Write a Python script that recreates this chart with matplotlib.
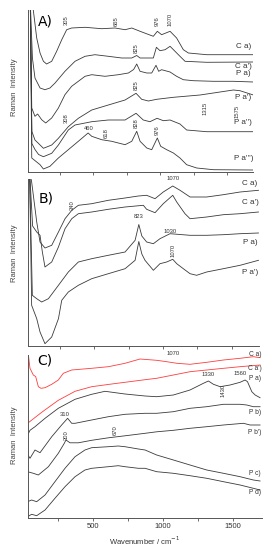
import matplotlib
matplotlib.use("Agg")
import matplotlib.pyplot as plt
from matplotlib.ticker import FixedLocator, FuncFormatter

plt.rcParams['font.family'] = ['Liberation Sans', 'DejaVu Sans']

# ---------------- Panel A (wavenumber, intensity a.u.) ----------------
a_ca_x = [28, 51, 76, 101, 126, 150, 188, 225, 263, 300, 337, 437, 561, 661, 736, 786, 848, 947, 977, 1009, 1072, 1121, 1171, 1209, 1346, 1694]
a_ca_y = [175, 161, 133.5, 118.5, 110.2, 107.5, 110.2, 120.2, 131.8, 141.8, 143.5, 144.2, 142.8, 143.5, 141.8, 143.5, 140.2, 135.2, 140.2, 136.8, 140.2, 133.5, 121.8, 118.5, 116.8, 116.8]
a_ca2_x = [28, 44, 63, 101, 138, 175, 213, 287, 362, 437, 511, 611, 711, 786, 823, 848, 947, 970, 997, 1035, 1072, 1146, 1184, 1346, 1694]
a_ca2_y = [170, 113.5, 93.5, 83.5, 81.8, 83.5, 88.5, 100.2, 110.2, 115.2, 116.8, 115.2, 113.5, 113.5, 116, 113.5, 113.5, 124.2, 120.8, 121.8, 125.2, 115.2, 110.2, 109.2, 109.5]
a_pa_x = [28, 39, 63, 83, 113, 143, 188, 238, 287, 337, 387, 437, 487, 586, 686, 761, 800, 823, 848, 898, 935, 967, 987, 1009, 1072, 1121, 1171, 1246, 1396, 1545, 1694]
a_pa_y = [170, 63.5, 55.2, 57.5, 51.8, 48.5, 53.5, 63.5, 76.8, 85.2, 90.2, 95.2, 96.8, 95.2, 96.8, 98.5, 102, 107.5, 100.2, 98.5, 98.5, 106.2, 100.2, 101.8, 99.5, 95.2, 91.8, 90.8, 90.2, 90.2, 89.5]
a_pa2_x = [28, 40, 63, 90, 126, 188, 238, 312, 387, 487, 611, 736, 818, 860, 910, 972, 1097, 1296, 1545, 1594, 1694]
a_pa2_y = [170, 40, 31.5, 28, 23.2, 26.5, 33.2, 44.8, 53.2, 61.5, 66.5, 71.5, 78.2, 72.2, 70.5, 72.2, 74.2, 76.5, 81.5, 80.8, 76.5]
a_pa3_x = [28, 40, 63, 90, 126, 188, 238, 312, 362, 487, 611, 736, 818, 872, 922, 975, 1022, 1072, 1146, 1196, 1346, 1694]
a_pa3_y = [170, 28, 22, 17, 14.8, 18.2, 26.5, 41.5, 46.5, 49.8, 51.5, 51.5, 58.2, 51.5, 49.8, 53.2, 50.8, 51.5, 47.5, 41.5, 39.8, 39.8]
a_pa4_x = [28, 39, 76, 101, 126, 175, 238, 312, 387, 460, 487, 561, 636, 736, 786, 823, 848, 898, 935, 977, 1002, 1047, 1097, 1146, 1196, 1271, 1396, 1694]
a_pa4_y = [170, 13.5, 9.5, 6.8, 2.5, 5.2, 13.5, 21.8, 30.2, 38.5, 35.2, 31.8, 30.2, 26.8, 30.2, 40.2, 30.2, 23.5, 21.8, 33.5, 25.2, 21.8, 18.5, 13.5, 6.8, 3.5, 1.8, 1.5]
a_names = ["C a)", "C a')", "P a)", "P a')", "P a'')", "P a''')"]
a_name_y = [125.2, 105.2, 97.5, 73.5, 48.5, 13.5]
a_peaks = [("305", 300, 151.5), ("665", 668, 150.8), ("976", 975, 150.5), ("1070", 1072, 152),
           ("825", 818, 123.5), ("825", 818, 86), ("1315", 1333, 63.5), ("1575", 1570, 60.2),
           ("308", 300, 53.5), ("618", 599, 38.5), ("828", 823, 48), ("976", 977, 41)]

# ---------------- Panel B ----------------
b_ca_x = [28, 43, 80, 104, 140, 189, 238, 286, 335, 383, 480, 601, 723, 820, 880, 941, 1001, 1070, 1123, 1196, 1317, 1438, 1560, 1694]
b_ca_y = [175, 164, 124, 104, 98, 100.7, 114, 127.3, 135.7, 140.7, 142.3, 145.7, 148, 150, 150.7, 147.3, 154, 160, 155.7, 149, 149, 151.3, 154, 155.7]
b_ca2_x = [28, 50, 80, 104, 121, 140, 189, 238, 286, 335, 383, 480, 601, 723, 856, 880, 941, 1001, 1070, 1099, 1159, 1196, 1317, 1438, 1560, 1694]
b_ca2_y = [175, 120, 114, 110.7, 94, 79, 84, 99, 117.3, 127.3, 132.3, 134, 136.7, 139, 140.7, 136.7, 133.3, 142.3, 150.7, 144, 132.3, 127.3, 129, 131.3, 132.3, 134]
b_pa_x = [28, 48, 80, 116, 165, 238, 310, 383, 480, 601, 723, 796, 823, 845, 880, 929, 977, 1050, 1196, 1317, 1438, 1560, 1694]
b_pa_y = [175, 50.7, 47.3, 44, 47.3, 60.7, 74, 84, 87.3, 90.7, 94, 105.7, 121.5, 110, 104, 102.3, 107.3, 112.3, 110.7, 110.7, 111.3, 112.3, 113]
b_pa2_x = [28, 43, 80, 104, 140, 189, 238, 262, 310, 383, 480, 601, 723, 796, 823, 845, 868, 929, 977, 1026, 1070, 1099, 1147, 1196, 1244, 1317, 1438, 1560, 1694]
b_pa2_y = [175, 40.7, 27.3, 14, 2.3, 9, 27.3, 45.7, 54, 60.7, 67.3, 72.3, 77.3, 85.7, 104.5, 92, 85.7, 75.7, 82.3, 84, 86.7, 82.3, 77.3, 72.3, 70.7, 74, 77.3, 80.7, 85.7]
b_names = ["C a)", "C a')", "P a)", "P a')"]
b_name_y = [162.3, 144, 104, 74]
b_peaks = [("340", 342, 140.7, 90), ("823", 823, 129.5, 0), ("1070", 1070, 168, 0),
           ("1030", 1050, 114.7, 0), ("1070", 1074, 95.7, 90)]

# ---------------- Panel C ----------------
c_ca_x = [30, 47, 71, 88, 107, 126, 155, 203, 250, 286, 346, 489, 609, 728, 836, 955, 1027, 1100, 1194, 1314, 1434, 1553, 1648, 1696]
c_ca_y = [170, 150, 143.3, 141.7, 131.6, 130, 130.6, 134, 138.3, 145, 148.3, 150, 151.6, 155, 159.3, 158, 156.6, 155, 154, 156, 158.3, 160, 161.6, 160.6]
c_ca2_x = [30, 131, 250, 370, 489, 633, 872, 955, 1075, 1194, 1314, 1434, 1553, 1696]
c_ca2_y = [95, 106, 118, 127, 131.6, 134.3, 138.6, 140, 143.3, 146.6, 148.3, 150, 151.6, 153.3]
c_pa_x = [30, 47, 83, 155, 250, 370, 489, 585, 728, 872, 955, 1075, 1194, 1290, 1326, 1362, 1410, 1481, 1553, 1589, 1606, 1637, 1661, 1696]
c_pa_y = [83, 88, 91.6, 100, 110, 119, 124, 127, 124.3, 122.3, 121.6, 123.3, 128.3, 135, 137.3, 134, 131.6, 133.3, 136, 138.3, 136.6, 126.6, 123.3, 120.6]
c_pb_x = [30, 47, 83, 119, 203, 274, 317, 346, 370, 489, 609, 728, 872, 955, 1075, 1194, 1314, 1434, 1553, 1601, 1648, 1696]
c_pb_y = [64, 60, 68.3, 65.6, 81.6, 93.3, 100, 95, 95, 98.3, 101.6, 104, 105, 105, 106.6, 110, 111.6, 114, 114, 113.3, 111.6, 111.6]
c_pb2_x = [30, 71, 107, 179, 250, 293, 305, 334, 394, 489, 609, 728, 872, 955, 1075, 1194, 1314, 1434, 1577, 1625, 1696]
c_pb2_y = [46.6, 45, 43.3, 51.6, 65, 75, 78.3, 75.5, 75.5, 78, 80.5, 82.5, 85, 86.5, 88, 90, 91.6, 93.3, 95, 93.3, 93.3]
c_pc_x = [30, 59, 95, 155, 226, 298, 370, 441, 489, 609, 680, 728, 824, 872, 955, 1075, 1194, 1314, 1434, 1553, 1648, 1696]
c_pc_y = [16.6, 18.3, 16.6, 23.3, 36.6, 50, 61.6, 68.3, 70.6, 71.6, 72.3, 71.6, 69.3, 68.3, 63.3, 58.3, 53.3, 48.3, 45, 41.6, 38.3, 37.3]
c_pd_x = c_pc_x
c_pd_y = [1.6, 4, 2.6, 8.3, 20, 31.6, 41.6, 48.3, 50, 51.6, 52.6, 51.6, 50, 50, 46.6, 45, 42.6, 40, 36.6, 33.3, 30, 28.3]
c_names = ["C a)", "C a')", "P a)", "P b)", "P b')", "P c)", "P d)"]
c_name_y = [163.3, 149.3, 140, 105.3, 86.3, 45, 26.3]
c_peaks = [("1070", 1075, 165, 0), ("1330", 1325, 144, 0), ("1560", 1553, 145, 0),
           ("1430", 1433, 128.3, 90), ("310", 298, 103.5, 0), ("300", 310, 83, 90),
           ("670", 657, 88, 90)]

W, H = 277, 550
fig = plt.figure(figsize=(W / 100, H / 100), dpi=100)

grey = '#3a3a3a'
red = '#ff3c3c'


def make_axes(left, right, top, bottom, xlim, ylim):
    ax = fig.add_axes([left / W, 1 - bottom / H, (right - left) / W, (bottom - top) / H])
    ax.set_xlim(*xlim)
    ax.set_ylim(*ylim)
    for s in ['top', 'right']:
        ax.spines[s].set_visible(False)
    for s in ['left', 'bottom']:
        ax.spines[s].set_linewidth(0.7)
        ax.spines[s].set_color('#555555')
    ax.set_yticks([])
    ax.xaxis.set_major_locator(FixedLocator([250, 500, 750, 1000, 1250, 1500]))
    ax.tick_params(axis='x', direction='out', length=2.2, width=0.6, color='#555555',
                   labelsize=5.5, labelcolor='#333333', pad=1.5)
    ax.xaxis.set_major_formatter(FuncFormatter(lambda v, p: ''))
    ax.patch.set_alpha(0)
    return ax


# Panel A
axA = make_axes(27.6, 252.8, 10, 171.5, (8, 1690), (0, 161.5))
for xs, ys in [(a_ca_x, a_ca_y), (a_ca2_x, a_ca2_y), (a_pa_x, a_pa_y),
               (a_pa2_x, a_pa2_y), (a_pa3_x, a_pa3_y), (a_pa4_x, a_pa4_y)]:
    axA.plot(xs, ys, color=grey, lw=0.6)
for name, yv in zip(a_names, a_name_y):
    axA.text(1620, yv, name, fontsize=5.8, color='#333333', ha='center', va='center')
for t, xv, yv in a_peaks:
    axA.text(xv, yv, t, fontsize=4.2, color='#333333', rotation=90, ha='center', va='center')
axA.text(462, 42.8, "460", fontsize=4.2, color='#333333', ha='center', va='center')
axA.text(0.046, 0.93, "A)", transform=axA.transAxes, fontsize=10, family='DejaVu Sans',
         ha='left', va='center')

# Panel B
axB = make_axes(27.8, 259.3, 179, 346, (15, 1700), (0, 167))
for xs, ys in [(b_ca_x, b_ca_y), (b_ca2_x, b_ca2_y), (b_pa_x, b_pa_y), (b_pa2_x, b_pa2_y)]:
    axB.plot(xs, ys, color=grey, lw=0.6)
for name, yv in zip(b_names, b_name_y):
    axB.text(1632, yv, name, fontsize=5.8, color='#333333', ha='center', va='center')
for t, xv, yv, rot in b_peaks:
    axB.text(xv, yv, t, fontsize=4.2, color='#333333', rotation=rot, ha='center',
             va='center', clip_on=False)
axB.text(0.045, 0.882, "B)", transform=axB.transAxes, fontsize=10, family='DejaVu Sans',
         ha='left', va='center')

# Panel C
axC = make_axes(27.6, 262.0, 355, 518.3, (30, 1710), (0, 163.3))
axC.plot(c_ca_x, c_ca_y, color=red, lw=0.6)
axC.plot(c_ca2_x, c_ca2_y, color=red, lw=0.6)
for xs, ys in [(c_pa_x, c_pa_y), (c_pb_x, c_pb_y), (c_pb2_x, c_pb2_y),
               (c_pc_x, c_pc_y), (c_pd_x, c_pd_y)]:
    axC.plot(xs, ys, color=grey, lw=0.6)
for name, yv in zip(c_names, c_name_y):
    axC.text(1660, yv, name, fontsize=4.8, color='#333333', ha='center', va='center')
for t, xv, yv, rot in c_peaks:
    axC.text(xv, yv, t, fontsize=4.2, color='#333333', rotation=rot, ha='center',
             va='center', clip_on=False)
axC.text(0.043, 0.969, "C)", transform=axC.transAxes, fontsize=10, family='DejaVu Sans',
         ha='left', va='center')
axC.xaxis.set_major_formatter(FuncFormatter(lambda v, p: '%d' % v if v % 500 == 0 else ''))
axC.set_xlabel('Wavenumber / cm$^{-1}$', fontsize=5.5, color='#333333', labelpad=3)

for yc in [87, 253, 435]:
    fig.text(15 / W, 1 - yc / H, 'Raman  Intensity', rotation=90, fontsize=5.5,
             color='#444444', ha='center', va='center')

fig.savefig('out.png', dpi=100)
